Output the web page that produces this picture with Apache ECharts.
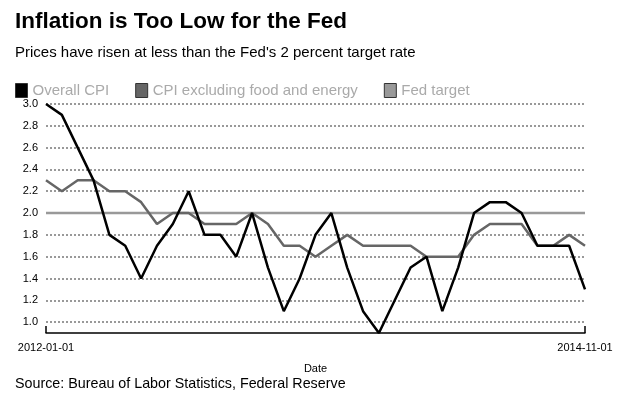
<!DOCTYPE html>
<html>
<head>
<meta charset="utf-8">
<script src="https://cdn.jsdelivr.net/npm/echarts@6/dist/echarts.min.js"></script>
<style>
html,body{margin:0;padding:0;background:#fff;}
#chart{width:630px;height:400px;}
</style>
</head>
<body>
<div id="chart"></div>
<script>
const dates = ['2012-01-01','2012-02-01','2012-03-01','2012-04-01','2012-05-01','2012-06-01','2012-07-01','2012-08-01','2012-09-01','2012-10-01','2012-11-01','2012-12-01',
'2013-01-01','2013-02-01','2013-03-01','2013-04-01','2013-05-01','2013-06-01','2013-07-01','2013-08-01','2013-09-01','2013-10-01','2013-11-01','2013-12-01',
'2014-01-01','2014-02-01','2014-03-01','2014-04-01','2014-05-01','2014-06-01','2014-07-01','2014-08-01','2014-09-01','2014-10-01','2014-11-01'];
const overallCPI = [3.0,2.9,2.6,2.3,1.8,1.7,1.4,1.7,1.9,2.2,1.8,1.8,1.6,2.0,1.5,1.1,1.4,1.8,2.0,1.5,1.1,0.9,1.2,1.5,1.6,1.1,1.5,2.0,2.1,2.1,2.0,1.7,1.7,1.7,1.3];
const coreCPI = [2.3,2.2,2.3,2.3,2.2,2.2,2.1,1.9,2.0,2.0,1.9,1.9,1.9,2.0,1.9,1.7,1.7,1.6,1.7,1.8,1.7,1.7,1.7,1.7,1.6,1.6,1.6,1.8,1.9,1.9,1.9,1.7,1.7,1.8,1.7];
const fedTarget = dates.map(() => 2.0);
const yTicks = [1.0,1.2,1.4,1.6,1.8,2.0,2.2,2.4,2.6,2.8,3.0];

const chart = echarts.init(document.getElementById('chart'));
const font = 'Liberation Sans, Arial, sans-serif';
chart.setOption({
  animation: false,
  backgroundColor: '#fff',
  textStyle: { fontFamily: font },
  title: [
    { text: 'Inflation is Too Low for the Fed', left: 10, top: 5,
      textStyle: { fontSize: 22.5, fontWeight: 'bold', color: '#000', fontFamily: font } },
    { text: "Prices have risen at less than the Fed's 2 percent target rate", left: 10, top: 40,
      textStyle: { fontSize: 15, fontWeight: 'normal', color: '#000', fontFamily: font } },
    { text: 'Source: Bureau of Labor Statistics, Federal Reserve', left: 10, top: 372,
      textStyle: { fontSize: 14.3, fontWeight: 'normal', color: '#000', fontFamily: font } }
  ],
  legend: {
    left: 10, top: 78,
    icon: 'rect', itemWidth: 12, itemHeight: 14, itemGap: 26,
    textStyle: { color: '#aaa', fontSize: 15 },
    itemStyle: { borderColor: '#333', borderWidth: 1 },
    data: ['Overall CPI', 'CPI excluding food and energy', 'Fed target']
  },
  grid: { left: 46, right: 45, top: 104, bottom: 67 },
  xAxis: {
    type: 'category', data: dates, boundaryGap: false,
    name: 'Date', nameLocation: 'middle', nameGap: 30,
    nameTextStyle: { fontSize: 11, color: '#000' },
    axisLine: { lineStyle: { color: '#000', width: 1.5 } },
    axisTick: { show: true, inside: true, length: 7, lineStyle: { color: '#000', width: 1.5 },
      interval: (i) => i === 0 || i === dates.length - 1 },
    axisLabel: { color: '#000', fontSize: 11, margin: 9,
      interval: (i) => i === 0 || i === dates.length - 1 },
    splitLine: { show: false }
  },
  yAxis: {
    type: 'value', min: 0.9, max: 3.0,
    axisLine: { show: false },
    axisTick: { show: false, customValues: yTicks },
    axisLabel: { color: '#000', fontSize: 11, margin: 8, customValues: yTicks,
      formatter: (v) => v.toFixed(1) },
    splitLine: { show: true, lineStyle: { color: '#999', width: 2, type: [2, 2] } }
  },
  series: [
    { name: 'Overall CPI', type: 'line', data: overallCPI, symbol: 'none',
      lineStyle: { color: '#000', width: 2.5 }, itemStyle: { color: '#000' }, z: 4 },
    { name: 'CPI excluding food and energy', type: 'line', data: coreCPI, symbol: 'none',
      lineStyle: { color: '#666', width: 2.5 }, itemStyle: { color: '#666' }, z: 3 },
    { name: 'Fed target', type: 'line', data: fedTarget, symbol: 'none',
      lineStyle: { color: '#999', width: 2.5 }, itemStyle: { color: '#999' }, z: 2 }
  ]
});
</script>
</body>
</html>
